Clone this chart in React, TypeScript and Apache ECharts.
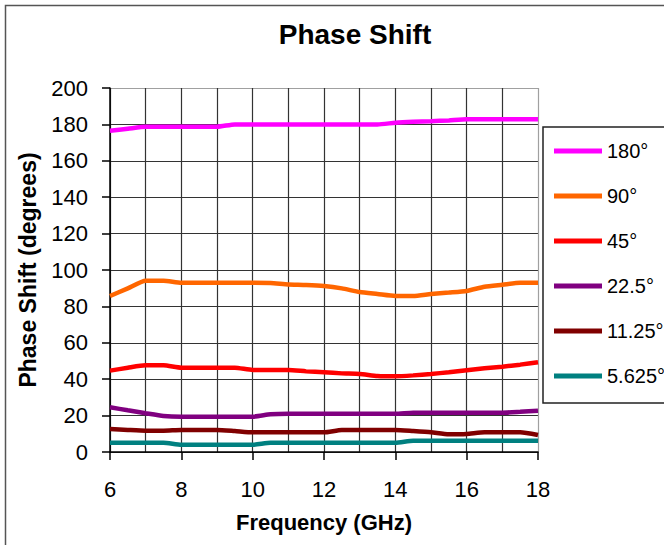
import React, { useEffect, useRef } from "react";
import * as echarts from "echarts";

const frequencies = [6, 6.5, 7, 7.5, 8, 8.5, 9, 9.5, 10, 10.5, 11, 11.5, 12, 12.5, 13, 13.5, 14, 14.5, 15, 15.5, 16, 16.5, 17, 17.5, 18];

const seriesNames = ["180°", "90°", "45°", "22.5°", "11.25°", "5.625°"];
const seriesColors = ["#FF00FF", "#FF6600", "#FF0000", "#800080", "#800000", "#008080"];

const phase180 = [176.5, 177.6, 178.7, 178.7, 178.7, 178.7, 178.7, 180.0, 180.0, 180.0, 180.0, 180.0, 180.0, 180.0, 180.0, 180.0, 180.9, 181.4, 181.7, 182.2, 182.8, 182.8, 182.8, 182.8, 182.8];
const phase90 = [85.7, 89.9, 94.1, 94.1, 93.0, 93.0, 93.0, 93.0, 93.0, 92.8, 92.1, 91.8, 91.2, 89.9, 87.9, 86.8, 85.7, 85.7, 86.8, 87.6, 88.5, 90.8, 91.9, 93.0, 93.0];
const phase45 = [44.7, 46.3, 47.6, 47.6, 46.3, 46.3, 46.3, 46.3, 45.1, 45.1, 45.1, 44.3, 43.8, 43.2, 42.9, 41.8, 41.6, 42.1, 42.9, 43.8, 44.9, 46.0, 46.9, 48.0, 49.3];
const phase22 = [24.6, 22.9, 21.3, 19.8, 19.4, 19.4, 19.4, 19.4, 19.4, 20.7, 21.0, 21.0, 21.0, 21.0, 21.0, 21.0, 21.0, 21.6, 21.6, 21.6, 21.6, 21.6, 21.6, 22.1, 22.7];
const phase11 = [12.6, 12.1, 11.7, 11.7, 12.1, 12.1, 12.1, 11.5, 10.8, 10.8, 10.8, 10.8, 10.8, 12.1, 12.1, 12.1, 12.1, 11.5, 10.8, 9.7, 9.9, 10.8, 10.8, 10.8, 9.3];
const phase5 = [5.1, 5.1, 5.1, 5.1, 4.0, 4.0, 4.0, 4.0, 4.0, 5.1, 5.1, 5.1, 5.1, 5.1, 5.1, 5.1, 5.1, 6.2, 6.2, 6.2, 6.2, 6.2, 6.2, 6.2, 6.2];

const allSeries = [phase180, phase90, phase45, phase22, phase11, phase5];

const FONT = "'Liberation Sans', Arial, sans-serif";

export default function App() {
  const ref = useRef<HTMLDivElement>(null);

  useEffect(() => {
    if (!ref.current) return;
    const chart = echarts.init(ref.current, null, { renderer: "svg" });
    const ySplitColors = Array.from({ length: 11 }, (_, i) => (i === 10 ? "#A0A0A0" : "#333333"));
    const xSplitColors = Array.from({ length: 7 }, (_, i) => (i === 6 ? "#A0A0A0" : "#333333"));
    chart.setOption({
      animation: false,
      backgroundColor: "#ffffff",
      title: {
        text: "Phase Shift",
        left: 350,
        textAlign: "center",
        top: 15,
        textStyle: { fontFamily: FONT, fontSize: 28, fontWeight: "bold", color: "#000" },
      },
      graphic: [
        {
          type: "rect",
          shape: { x: 5.5, y: 5.5, width: 800, height: 800 },
          style: { fill: "none", stroke: "#555", lineWidth: 1.5 },
          silent: true,
        },
        {
          type: "rect",
          shape: { x: 543, y: 127, width: 300, height: 276 },
          style: { fill: "none", stroke: "#222", lineWidth: 1.5 },
          silent: true,
        },
      ],
      legend: {
        orient: "vertical",
        left: 554,
        top: 141,
        padding: 0,
        icon: "rect",
        itemWidth: 48,
        itemHeight: 5,
        itemGap: 25,
        textStyle: { fontFamily: FONT, fontSize: 20, lineHeight: 20, color: "#000" },
        data: seriesNames,
      },
      grid: { left: 110, right: 126, top: 88, bottom: 93, containLabel: false },
      xAxis: {
        type: "value",
        min: 6,
        max: 18,
        interval: 2,
        name: "Frequency (GHz)",
        nameLocation: "middle",
        nameGap: 59,
        nameTextStyle: { fontFamily: FONT, fontSize: 22, fontWeight: "bold", color: "#000" },
        axisLine: { show: true, onZero: false, lineStyle: { color: "#000", width: 1.5 } },
        axisTick: { show: true, inside: false, length: 8, lineStyle: { color: "#000", width: 1.5 } },
        axisLabel: { fontFamily: FONT, fontSize: 22, color: "#000", margin: 26 },
        splitLine: { show: true, lineStyle: { color: xSplitColors, width: 1.2 } },
        minorTick: { show: false, splitNumber: 2 },
        minorSplitLine: { show: true, lineStyle: { color: "#333333", width: 1.2 } },
      },
      yAxis: {
        type: "value",
        min: 0,
        max: 200,
        interval: 20,
        name: "Phase Shift (degrees)",
        nameLocation: "middle",
        nameGap: 71,
        nameTextStyle: { fontFamily: FONT, fontSize: 23, fontWeight: "bold", color: "#000" },
        axisLine: { show: true, lineStyle: { color: "#000", width: 1.5 } },
        axisTick: { show: true, inside: false, length: 8, lineStyle: { color: "#000", width: 1.5 } },
        axisLabel: { fontFamily: FONT, fontSize: 22, color: "#000", margin: 22 },
        splitLine: { show: true, lineStyle: { color: ySplitColors, width: 1.2 } },
      },
      series: seriesNames.map((name, i) => ({
        name,
        type: "line",
        data: frequencies.map((f, j) => [f, allSeries[i][j]]),
        showSymbol: false,
        symbol: "none",
        smooth: 0.2,
        color: seriesColors[i],
        lineStyle: { color: seriesColors[i], width: 4.5 },
      })),
    });
    return () => chart.dispose();
  }, []);

  return (
    <div
      ref={ref}
      style={{ position: "fixed", left: 0, top: 0, width: 664, height: 545, background: "#fff" }}
    />
  );
}
